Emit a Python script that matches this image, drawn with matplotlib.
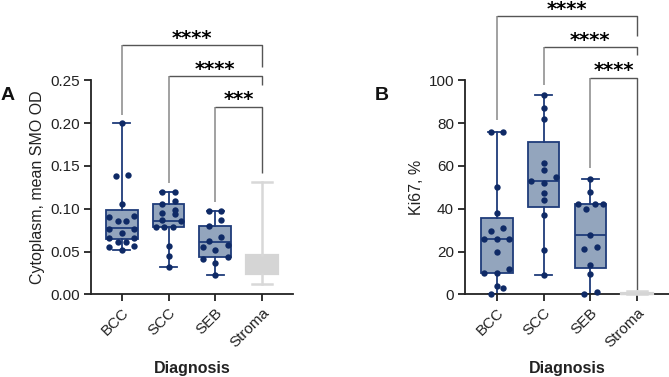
import matplotlib
matplotlib.use('Agg')
import matplotlib.pyplot as plt
import numpy as np

plt.rcParams['font.family'] = ['Liberation Sans', 'DejaVu Sans']

categories = ['BCC', 'SCC', 'SEB', 'Stroma']

# ---- Panel A: Cytoplasm, mean SMO OD ----
smo_bcc = [0.200, 0.139, 0.138, 0.106, 0.092, 0.090, 0.086, 0.086, 0.076, 0.076,
           0.072, 0.066, 0.066, 0.061, 0.061, 0.056, 0.055, 0.052]
smo_scc = [0.119, 0.119, 0.109, 0.106, 0.099, 0.095, 0.094, 0.087, 0.086, 0.079,
           0.079, 0.079, 0.056, 0.045, 0.032]
smo_seb = [0.097, 0.097, 0.087, 0.080, 0.067, 0.062, 0.058, 0.055, 0.052, 0.043,
           0.041, 0.036, 0.022]
smo_q1 = [0.065, 0.079, 0.043, 0.024]
smo_med = [0.078, 0.086, 0.061, 0.034]
smo_q3 = [0.0985, 0.105, 0.080, 0.046]
smo_lo = [0.052, 0.032, 0.022, 0.0125]
smo_hi = [0.200, 0.119, 0.097, 0.131]
smo_yticks = [0.00, 0.05, 0.10, 0.15, 0.20, 0.25]
smo_brackets = [(0, 3, '****', 0.2912, 0.2095, 0.2659),
                (1, 3, '****', 0.2550, 0.1300, 0.2445),
                (2, 3, '***', 0.2190, 0.1080, 0.1414)]

# ---- Panel B: Ki67, % ----
ki_bcc = [76, 76, 50, 37.8, 30.8, 29.7, 25.8, 25.8, 25.8, 19.9, 11.8, 9.8, 9.8,
          4.0, 3.0, 0]
ki_scc = [93.1, 87.2, 82.1, 61.2, 58.1, 55.0, 52.9, 52.0, 47.2, 43.9, 36.9, 20.9, 8.9]
ki_seb = [54, 47.8, 42.2, 42.2, 42.2, 39.9, 27.9, 22.0, 21.2, 13.7, 9.6, 1.0, 0]
ki_q1 = [9.8, 40.6, 12.1, 0]
ki_med = [25.8, 52.9, 27.9, 0]
ki_q3 = [35.8, 71.2, 42.2, 0.4]
ki_lo = [0, 8.9, 0, 0]
ki_hi = [76, 93.1, 54, 1.7]
ki_yticks = [0, 20, 40, 60, 80, 100]
ki_brackets = [(0, 3, '****', 130.0, 81.4, 120.6),
               (1, 3, '****', 115.4, 97.8, 111.8),
               (2, 3, '****', 101.2, 58.9, 2.0)]

BOX_FACE = '#93a5bd'
BOX_EDGE = '#1f3c7a'
DOT = '#0f2a66'
GRAY_FACE = '#d5d5d5'
GRAY_LINE = '#d8d8d8'
AXC = '#222222'

fig = plt.figure(figsize=(6.69, 3.77), dpi=100)
W, H = 669, 377
y0 = 294.3
hpx = 214
axA = fig.add_axes([91 / W, (H - y0) / H, (292.7 - 91) / W, hpx / H])
axB = fig.add_axes([465 / W, (H - y0) / H, (668.5 - 465) / W, hpx / H])


def swarm(ax, x0, values, thresh=6.5):
    vals = np.sort(np.asarray(values, dtype=float))
    ypx = ax.transData.transform(np.column_stack([np.full(len(vals), x0), vals]))[:, 1]
    pxx = ax.transData.transform((1, 0))[0] - ax.transData.transform((0, 0))[0]
    rows = []
    cur = [0]
    for i in range(1, len(vals)):
        if ypx[i] - ypx[cur[0]] < thresh:
            cur.append(i)
        else:
            rows.append(cur)
            cur = [i]
    rows.append(cur)
    xs, ys = [], []
    for r in rows:
        n = len(r)
        if n == 1:
            offs = [0.0]
        elif n == 2:
            offs = [-6.3, 6.3]
        else:
            offs = list(np.linspace(-12.5, 12.5, n))
        offs = sorted(offs, key=lambda o: (abs(o), o))
        for idx, o in zip(r, offs):
            xs.append(x0 + o / pxx)
            ys.append(vals[idx])
    ax.scatter(xs, ys, s=21, color=DOT, zorder=4, linewidths=0, clip_on=False)


def panel(ax, q1, med, q3, lo, hi, pts, yticks, ylim, fmt, ylabel, brackets, xlim, ylab_x):
    ax.set_xlim(*xlim)
    ax.set_ylim(*ylim)
    stats = []
    for i in range(4):
        stats.append(dict(q1=q1[i], med=med[i], q3=q3[i], whislo=lo[i], whishi=hi[i], fliers=[]))
    ax.bxp(stats[:3], positions=[0, 1, 2], widths=0.675, patch_artist=True,
           showfliers=False, capwidths=0.36,
           boxprops=dict(facecolor=BOX_FACE, edgecolor=BOX_EDGE, linewidth=1.3),
           whiskerprops=dict(color=BOX_EDGE, linewidth=1.3),
           capprops=dict(color=BOX_EDGE, linewidth=1.3),
           medianprops=dict(color=BOX_EDGE, linewidth=1.3), zorder=2)
    res = ax.bxp(stats[3:], positions=[3], widths=0.675, patch_artist=True,
                 showfliers=False, capwidths=0.43,
                 boxprops=dict(facecolor=GRAY_FACE, edgecolor=GRAY_FACE, linewidth=1.6),
                 whiskerprops=dict(color=GRAY_LINE, linewidth=1.8),
                 capprops=dict(color=GRAY_LINE, linewidth=1.8),
                 medianprops=dict(color=GRAY_FACE, linewidth=1.6), zorder=3)
    for key in res:
        for art in res[key]:
            art.set_clip_on(False)
    for i, p in enumerate(pts):
        swarm(ax, i, p)
    for a, b, lab, yb, yl, yr in brackets:
        ax.plot([a, a], [yl, yb], color='#9a9a9a', lw=1.3, clip_on=False, zorder=1,
                solid_capstyle='butt')
        ax.plot([a, b, b], [yb, yb, yr], color='#555555', lw=1.0, clip_on=False, zorder=1,
                solid_capstyle='butt')
        ax.annotate(lab, xy=((a + b) / 2, yb), xytext=(0, 1.0), textcoords='offset points',
                    ha='center', va='baseline', fontsize=14, fontweight='bold',
                    family='DejaVu Sans', annotation_clip=False)
    ax.set_xticks(range(4))
    ax.set_xticklabels(categories, rotation=45, ha='right', rotation_mode='anchor',
                       fontsize=11)
    ax.set_yticks(yticks)
    ax.set_yticklabels([fmt.format(v) for v in yticks], fontsize=11)
    for s in ['top', 'right']:
        ax.spines[s].set_visible(False)
    for s in ['left', 'bottom']:
        ax.spines[s].set_linewidth(1.3)
        ax.spines[s].set_color(AXC)
        ax.spines[s].set_zorder(2.5)
    ax.tick_params(length=5, width=1.3, color=AXC, labelcolor=AXC, pad=3)
    ax.set_ylabel(ylabel, fontsize=11.5, color=AXC)
    ax.yaxis.set_label_coords(ylab_x, 0.5)
    ax.set_xlabel('Diagnosis', fontsize=11.5, fontweight='bold', color=AXC, va='top')
    ax.xaxis.set_label_coords(0.5, -0.31)


panel(axA, smo_q1, smo_med, smo_q3, smo_lo, smo_hi, [smo_bcc, smo_scc, smo_seb],
      smo_yticks, (0, 0.25), '{:.2f}', 'Cytoplasm, mean SMO OD', smo_brackets,
      (-0.66, 3.66), -0.228)
panel(axB, ki_q1, ki_med, ki_q3, ki_lo, ki_hi, [ki_bcc, ki_scc, ki_seb],
      ki_yticks, (0, 100), '{:.0f}', 'Ki67, %', ki_brackets,
      (-0.68, 3.67), -0.2)

fig.text(1 / W, 1 - 95 / H, 'A', fontsize=14, fontweight='bold', va='center', ha='left',
         color='#111111')
fig.text(375 / W, 1 - 95 / H, 'B', fontsize=14, fontweight='bold', va='center', ha='left',
         color='#111111')

fig.savefig('out.png', dpi=100)
